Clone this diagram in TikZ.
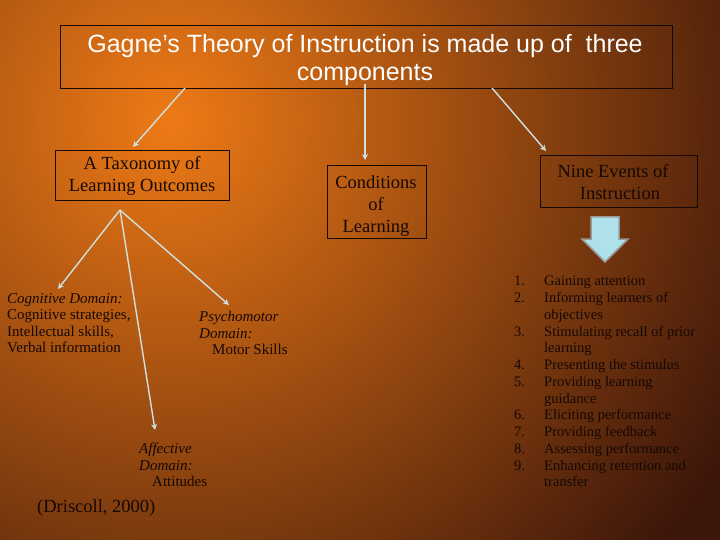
\documentclass[tikz,border=0pt]{standalone}
\usepackage{fontspec}
\setmainfont{Liberation Serif}
\newfontfamily\titlefont{Liberation Sans}
\usetikzlibrary{arrows.meta}
\definecolor{bgdark}{RGB}{60,22,10}
\definecolor{bgorange}{RGB}{238,122,22}
\definecolor{ink}{RGB}{22,8,4}
\definecolor{arr}{RGB}{205,225,225}
\definecolor{bigarr}{RGB}{175,225,235}
\tikzset{
  box/.style={draw=ink,line width=0.6pt},
  conn/.style={draw=arr,line width=1.4pt,-{Stealth[length=6pt,width=6pt]}},
  lbl/.style={text=ink,font=\fontsize{18.5}{22}\selectfont,align=center,inner sep=0},
  small/.style={text=ink,font=\fontsize{15}{16.6}\selectfont,align=left,inner sep=0,anchor=north west},
}
\begin{document}
\begin{tikzpicture}[x=1pt,y=-1pt]
\useasboundingbox (0,0) rectangle (720,540);
\fill[bgdark] (0,0) rectangle (720,540);
\begin{scope}
\clip (0,0) rectangle (720,540);
\shade[inner color=bgorange,outer color=bgdark] (170,120) circle (650);
\end{scope}
% title
\draw[box] (60,25) rectangle (672,88);
\node[text=white,font=\titlefont\fontsize{25}{28}\selectfont,align=center,inner sep=0] (title) at (365,60) {Gagne’s Theory of Instruction is made up of\ \ three\\components};
\coordinate (tl) at (185,88);
\coordinate (tm) at (365,84);
\coordinate (tr) at (492,88);
% boxes
\draw[box] (55,150) rectangle (229,200);
\node[lbl] (tax) at (142,176) {A Taxonomy of\\Learning Outcomes};
\draw[box] (327,165) rectangle (426,238);
\node[lbl] (cond) at (376,206) {Conditions\\of\\Learning};
\draw[box] (540,155) rectangle (697,207);
\node[lbl] (nine) at (613,182) {Nine Events of\\\ \ \ Instruction};
\coordinate (taxin) at (133,147);
\coordinate (condin) at (365,160);
\coordinate (ninein) at (546,151);
\draw[conn] (tl) -- (taxin);
\draw[conn] (tm) -- (condin);
\draw[conn] (tr) -- (ninein);
% big arrow
\draw[draw=gray!80,line width=1.5pt,fill=bigarr] (591,217) -- (619,217) -- (619,239) -- (628,239) -- (605,262) -- (582,239) -- (591,239) -- cycle;
% domains
\coordinate (apex) at (120,210);
\node[small] (cog) at (7,293) {\textit{Cognitive Domain:}\\Cognitive strategies,\\Intellectual skills,\\Verbal information};
\node[small] (psy) at (199,311) {\textit{Psychomotor}\\\textit{Domain:}\\\hspace*{13pt}Motor Skills};
\node[small] (aff) at (139,443) {\textit{Affective}\\\textit{Domain:}\\\hspace*{13pt}Attitudes};
\coordinate (cogin) at (58,289);
\coordinate (psyin) at (229,305);
\coordinate (affin) at (155,430);
\draw[conn] (apex) -- (cogin);
\draw[conn] (apex) -- (psyin);
\draw[conn] (apex) -- (affin);
\node[text=ink,font=\fontsize{18.5}{20}\selectfont,anchor=west,inner sep=0] (dris) at (37,508) {(Driscoll, 2000)};
% list
\node[small,font=\fontsize{14.5}{16.75}\selectfont] (nums) at (514,276) {1.\\2.\\\\3.\\\\4.\\5.\\\\6.\\7.\\8.\\9.};
\node[small,font=\fontsize{14.5}{16.75}\selectfont] (items) at (544,276) {Gaining attention\\Informing learners of\\objectives\\Stimulating recall of prior\\learning\\Presenting the stimulus\\Providing learning\\guidance\\Eliciting performance\\Providing feedback\\Assessing performance\\Enhancing retention and\\transfer};
\end{tikzpicture}
\end{document}
